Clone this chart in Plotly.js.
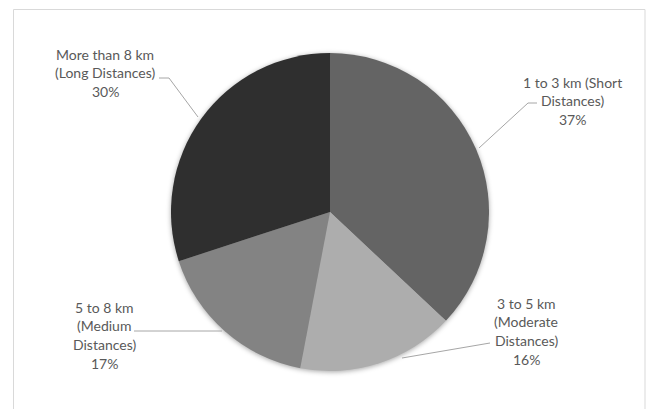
<!DOCTYPE html>
<html>
<head>
<meta charset="utf-8">
<script src="https://cdn.plot.ly/plotly-3.0.1.min.js"></script>
<style>
  html, body { margin: 0; padding: 0; background: #ffffff; }
  #chart { width: 646px; height: 409px; }
  .pielayer .trace { filter: drop-shadow(0px 1px 2.5px rgba(0,0,0,0.35)); }
</style>
</head>
<body>
<div id="chart"></div>
<script>
// ---- data ----
const labelLines = [
  ["1 to 3 km (Short", "Distances)"],
  ["3 to 5 km", "(Moderate", "Distances)"],
  ["5 to 8 km", "(Medium", "Distances)"],
  ["More than 8 km", "(Long Distances)"]
];
const categories = labelLines.map(l => l.join(" "));
const values = [37, 16, 17, 30];
const sliceColors = ["#646464", "#adadad", "#838383", "#2f2f2f"];

// ---- layout helpers (pixel -> paper) ----
const W = 646, H = 409;
const px = x => x / W;
const py = y => 1 - y / H;

// label placement (text block centre x, first line y), leader lines
const labelPos = [
  {x: 572, y: 82},
  {x: 526, y: 303},
  {x: 104, y: 307},
  {x: 105, y: 54}
];
const leaders = [
  [[537, 103], [528, 103], [479, 148]],
  [[490, 343], [402, 358]],
  [[134, 331], [222, 331]],
  [[159, 78], [169, 78], [198, 117]]
];
const LINE_STEP = 18.7;

const annotations = [];
labelLines.forEach((lines, i) => {
  const all = lines.concat([values[i] + "%"]);
  all.forEach((t, k) => {
    annotations.push({
      text: t, xref: "paper", yref: "paper",
      x: px(labelPos[i].x), y: py(labelPos[i].y + k * LINE_STEP),
      xanchor: "center", yanchor: "middle", showarrow: false,
      font: {family: "Lato, 'Open Sans', sans-serif", size: 14, color: "#595959"}
    });
  });
});

const shapes = [{
  type: "rect", xref: "paper", yref: "paper",
  x0: px(13.5), x1: px(645), y0: -0.05, y1: py(9.5),
  line: {color: "#d9d9d9", width: 1}, fillcolor: "rgba(0,0,0,0)", layer: "below"
}];
leaders.forEach(pts => {
  const d = pts.map((p, k) => (k ? "L" : "M") + px(p[0]) + "," + py(p[1])).join(" ");
  shapes.push({type: "path", xref: "paper", yref: "paper", path: d,
    line: {color: "#a6a6a6", width: 1}});
});

const trace = {
  type: "pie",
  labels: categories,
  values: values,
  sort: false,
  direction: "clockwise",
  rotation: 0,
  textinfo: "none",
  hoverinfo: "label+percent",
  marker: {colors: sliceColors, line: {width: 0}},
  domain: {x: [px(170), px(490)], y: [py(371), py(53)]}
};

const layout = {
  width: W, height: H,
  margin: {l: 0, r: 0, t: 0, b: 0},
  showlegend: false,
  paper_bgcolor: "#ffffff",
  plot_bgcolor: "#ffffff",
  annotations: annotations,
  shapes: shapes
};

Plotly.newPlot("chart", [trace], layout, {displayModeBar: false, staticPlot: true});
</script>
</body>
</html>
